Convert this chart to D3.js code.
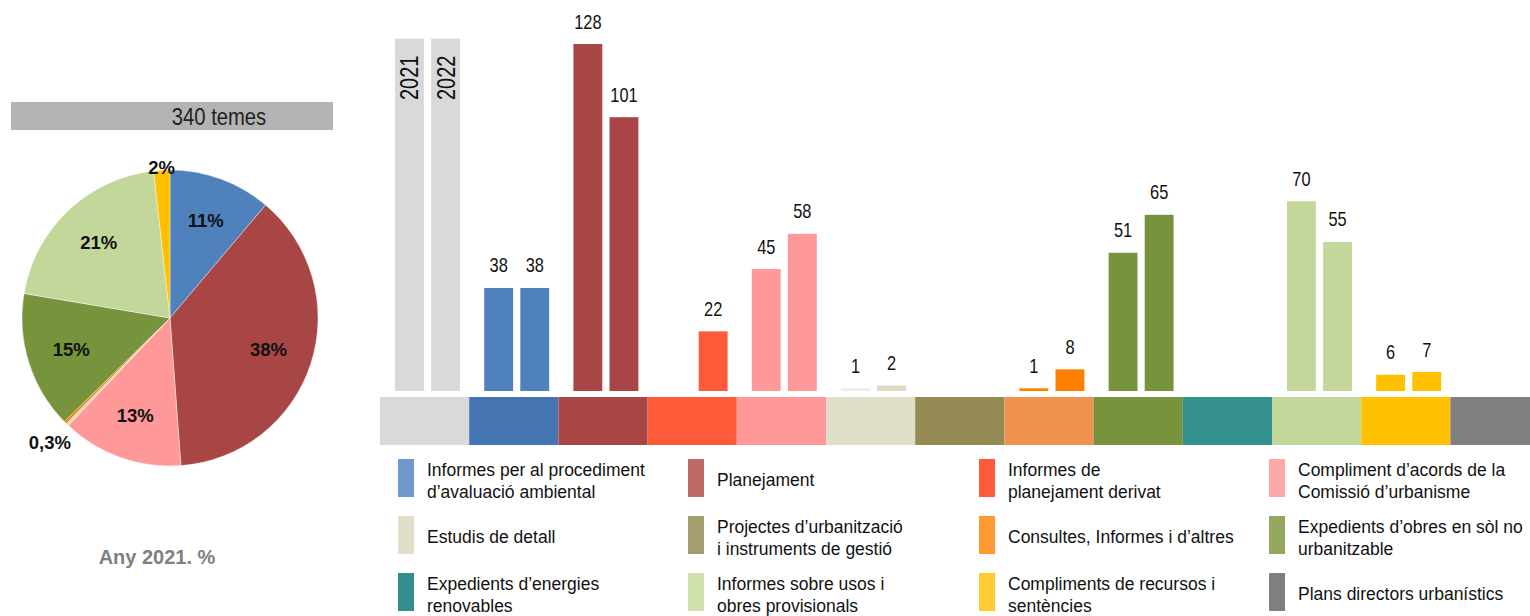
<!DOCTYPE html>
<html>
<head>
<meta charset="utf-8">
<script src="https://cdn.jsdelivr.net/npm/d3@7"></script>
<style>
  body { margin: 0; background: #fff; }
  svg { display: block; }
  text { font-family: "Liberation Sans", Arial, sans-serif; }
</style>
</head>
<body>
<div id="vis"></div>
<script>
// categories in legend order (\n = line break in the legend)
var categories = [
    "Informes per al procediment\nd’avaluació ambiental",
    "Planejament",
    "Informes de\nplanejament derivat",
    "Compliment d’acords de la\nComissió d’urbanisme",
    "Estudis de detall",
    "Projectes d’urbanització\ni instruments de gestió",
    "Consultes, Informes i d’altres",
    "Expedients d’obres en sòl no\nurbanitzable",
    "Expedients d’energies\nrenovables",
    "Informes sobre usos i\nobres provisionals",
    "Compliments de recursos i\nsentències",
    "Plans directors urbanístics"
];
var years = ["2021", "2022"];
var values2021 = [38, 128, null, 45, 1, null, 1, 51, null, 70, 6, null];
var values2022 = [38, 101, 22, 58, 2, null, 8, 65, null, 55, 7, null];

var barColors = ["#4f81bd", "#a84646", "#ff5a3a", "#ff9999", "#ddd9c3", "#948b54",
    "#ff8000", "#77933c", "#31908f", "#c4d79b", "#ffc000", "#7f7f7f"];
var bandColors = ["#4474b1", "#a84646", "#ff5a3a", "#ff9999", "#e0dfc9", "#948b54",
    "#f0914f", "#77933c", "#34918f", "#c4d79b", "#ffc000", "#7f7f7f"];
var legendColors = ["#6f98cb", "#bd6965", "#ff5a3a", "#ffa8a8", "#e0dec8", "#a49d6f",
    "#ff9a33", "#93a85e", "#31908f", "#d0e0ad", "#ffcc32", "#7f7f7f"];
var keyColor = "#d9d9d9";

var width = 1530, height = 616;

var svg = d3.select("#vis").append("svg")
    .attr("width", width)
    .attr("height", height);

// no narrow font installed: squeeze regular text horizontally
function narrow(px, py, sx) {
    return "translate(" + px + "," + py + ") scale(" + (sx || 0.82) + ",1)";
}

// ---------- pie (2021) ----------
var total = d3.sum(values2021);
var pieData = categories.map(function (c, i) {
    return {name: c, value: values2021[i], color: barColors[i]};
}).filter(function (d) { return d.value != null; });

var cx = 170, cy = 318, r = 148;

svg.append("rect")
    .attr("x", 11).attr("y", 102)
    .attr("width", 322).attr("height", 28)
    .attr("fill", "#b4b4b4");
svg.append("text")
    .attr("transform", narrow(219, 125, 0.88))
    .attr("text-anchor", "middle")
    .attr("font-size", 23)
    .attr("fill", "#222")
    .text(total + " temes");

var arcs = d3.pie().sort(null).value(function (d) { return d.value; })(pieData);
var arc = d3.arc().innerRadius(0).outerRadius(r);
var pieG = svg.append("g").attr("transform", "translate(" + cx + "," + cy + ")");

pieG.selectAll("path")
    .data(arcs)
    .enter().append("path")
    .attr("d", arc)
    .attr("fill", function (d) { return d.data.color; })
    .attr("stroke", "#fff")
    .attr("stroke-width", 0.4);

function pct(v) {
    var p = v / total * 100;
    return (p < 1 ? d3.format(".1f")(p).replace(".", ",") : Math.round(p)) + "%";
}
function labelRadius(v) {
    if (v >= 10) return r * 0.7;
    if (v >= 3) return r * 1.02;
    return r * 1.17;
}

pieG.selectAll("text")
    .data(arcs.filter(function (d, i) {
        // only one label for the two tiny neighbouring slices
        return !(d.value < 3 && i > 0 && arcs[i - 1].value < 3);
    }))
    .enter().append("text")
    .attr("transform", function (d) {
        var lr = labelRadius(d.value);
        return "translate(" + d3.arc().innerRadius(lr).outerRadius(lr).centroid(d) + ")";
    })
    .attr("dy", "0.35em")
    .attr("text-anchor", "middle")
    .attr("font-size", 18.5)
    .attr("font-weight", "bold")
    .attr("fill", "#111")
    .text(function (d) { return pct(d.value); });

svg.append("text")
    .attr("x", 157).attr("y", 564)
    .attr("text-anchor", "middle")
    .attr("font-size", 20)
    .attr("font-weight", "bold")
    .attr("fill", "#808080")
    .text("Any 2021. %");

// ---------- bars ----------
var x = d3.scaleBand()
    .domain(["key"].concat(categories))
    .range([380, 380 + 13 * 89.2]);

var xSub = d3.scaleBand()
    .domain(years)
    .range([15, 80])
    .paddingInner(0.2);

var y = d3.scaleLinear()
    .domain([0, 130])
    .range([391, 38.6]);

// colour band under the bars
svg.append("g").selectAll("rect")
    .data(["key"].concat(categories))
    .enter().append("rect")
    .attr("x", function (d) { return x(d); })
    .attr("y", 397)
    .attr("width", x.bandwidth())
    .attr("height", 48)
    .attr("fill", function (d, i) { return i === 0 ? keyColor : bandColors[i - 1]; });

// key bars with the year written inside
var keyG = svg.append("g");
keyG.selectAll("rect")
    .data(years)
    .enter().append("rect")
    .attr("x", function (d) { return x("key") + xSub(d); })
    .attr("y", y(130))
    .attr("width", xSub.bandwidth())
    .attr("height", y(0) - y(130))
    .attr("fill", keyColor);
keyG.selectAll("text")
    .data(years)
    .enter().append("text")
    .attr("transform", function (d) {
        return "translate(" + (x("key") + xSub(d) + xSub.bandwidth() / 2 + 9) + ",100) rotate(-90) scale(0.8,1)";
    })
    .attr("font-size", 25)
    .attr("fill", "#111")
    .text(function (d) { return d; });

var barData = [];
categories.forEach(function (c, i) {
    [values2021[i], values2022[i]].forEach(function (v, j) {
        if (v != null) barData.push({cat: c, year: years[j], value: v, color: barColors[i]});
    });
});

var barG = svg.append("g");
barG.selectAll("rect")
    .data(barData)
    .enter().append("rect")
    .attr("x", function (d) { return x(d.cat) + xSub(d.year); })
    .attr("y", function (d) { return y(d.value); })
    .attr("width", xSub.bandwidth())
    .attr("height", function (d) { return y(0) - y(d.value); })
    .attr("fill", function (d) {
        // the single 2021 "Estudis de detall" bar is paler
        return d.cat === "Estudis de detall" && d.year === "2021" ? "#eeece1" : d.color;
    });

barG.selectAll("text")
    .data(barData)
    .enter().append("text")
    .attr("transform", function (d) {
        return narrow(x(d.cat) + xSub(d.year) + xSub.bandwidth() / 2, y(d.value) - 15.5);
    })
    .attr("text-anchor", "middle")
    .attr("font-size", 20)
    .attr("fill", "#111")
    .text(function (d) { return d.value; });

// ---------- legend ----------
var legendCols = [398, 688, 979, 1269];
var legend = svg.append("g").selectAll("g")
    .data(categories)
    .enter().append("g")
    .attr("transform", function (d, i) {
        return "translate(" + legendCols[i % 4] + "," + (459 + Math.floor(i / 4) * 57) + ")";
    });

legend.append("rect")
    .attr("width", 16)
    .attr("height", 38)
    .attr("fill", function (d, i) { return legendColors[i]; });

legend.append("text")
    .attr("font-size", 17.5)
    .attr("fill", "#111")
    .each(function (d) {
        var lines = d.split("\n");
        var t = d3.select(this);
        lines.forEach(function (line, k) {
            t.append("tspan")
                .attr("x", 29)
                .attr("y", lines.length === 1 ? 26.5 : 17 + k * 21.5)
                .text(line);
        });
    });
</script>
</body>
</html>
